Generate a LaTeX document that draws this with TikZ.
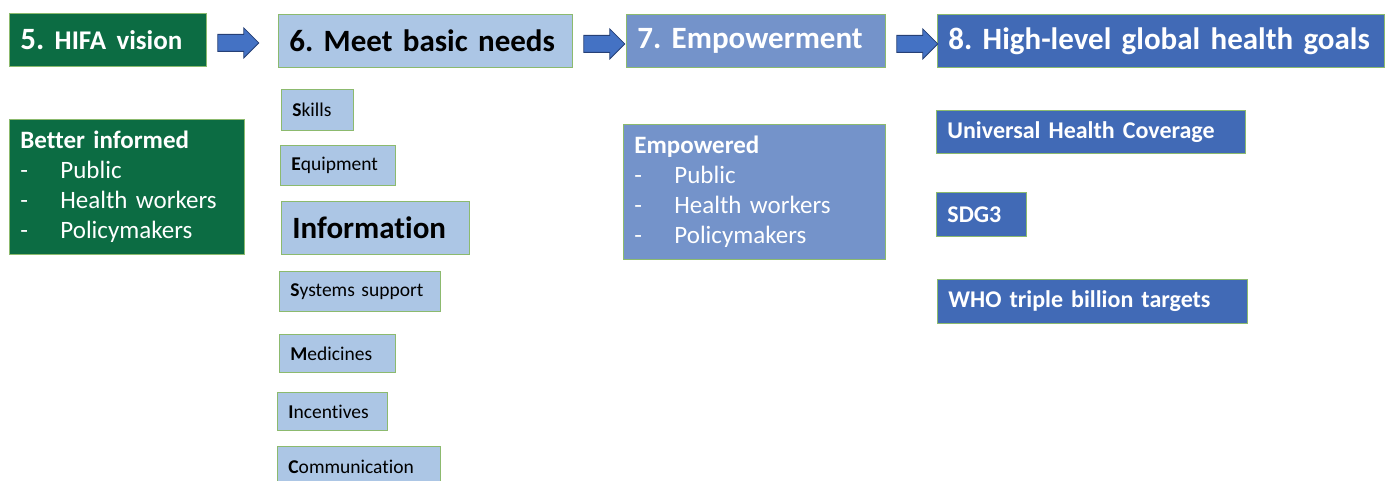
\documentclass[tikz,border=0pt]{standalone}
\usepackage{fontspec}
\setmainfont[Ligatures=NoCommon]{Carlito}
\usetikzlibrary{calc}

\definecolor{hifagreen}{RGB}{12,108,67}
\definecolor{needsblue}{RGB}{172,198,229}
\definecolor{powerblue}{RGB}{116,147,202}
\definecolor{goalblue}{RGB}{65,106,182}
\definecolor{edgegreen}{RGB}{140,186,110}
\definecolor{arrowblue}{RGB}{68,114,196}
\definecolor{arrowedge}{RGB}{38,64,118}

\newcommand{\dashitem}[1]{\makebox[40pt][l]{-}#1}
\newcommand{\blockarrow}[1]{%
    \draw[blockarr] ($(#1.east)+(11,-5.5)$) -- ++(26,0) -- ++(0,-6.5) -- ++(15,15)
        -- ++(-15,15) -- ++(0,-6.5) -- ++(-26,0) -- cycle;}

\begin{document}
\frenchspacing
\begin{tikzpicture}[x=1pt, y=-1pt,
        box/.style={draw=edgegreen, line width=0.8pt, anchor=north west, inner xsep=11pt, inner ysep=0pt, align=left},
        head/.style={box, minimum height=53pt, font=\fontsize{31}{36}\selectfont\bfseries},
        need/.style={box, fill=needsblue, font=\fontsize{19.5}{22}\selectfont},
        goal/.style={box, fill=goalblue, text=white, minimum height=44pt, font=\fontsize{24}{28}\selectfont\bfseries},
        group/.style={box, minimum height=135pt, text=white, font=\fontsize{25}{30}\selectfont},
        blockarr/.style={fill=arrowblue, draw=arrowedge, line width=0.8pt, line join=miter}]
        \useasboundingbox (0,0) rectangle (1386,481);
        \clip (0,0) rectangle (1386,481);

        % Header row.
        \node[head, fill=hifagreen, text=white, text width=175pt] (h5) at (9,13) {\mbox{5. {\fontsize{27}{32}\selectfont HIFA vision}}};
        \node[head, fill=needsblue, text width=272pt] (h6) at (278,14) {\mbox{6. Meet basic needs}};
        \node[head, fill=powerblue, text=white, text width=237pt] (h7) at (626,14) {\mbox{7. Empowerment}};
        \node[head, fill=goalblue, text=white, text width=425pt] (h8) at (937,14) {\mbox{8. High-level global health goals}};

        \blockarrow{h5}
        \blockarrow{h6}
        \blockarrow{h7}

        % Vision.
        \node[group, fill=hifagreen, text width=213pt] (informed) at (9,119)
            {\textbf{Better informed}\\ \dashitem{Public}\\ \dashitem{Health workers}\\ \dashitem{Policymakers}};

        % Basic needs.
        \node[need, minimum height=41pt, text width=50pt] (skills) at (281,89) {\textbf{S}kills};
        \node[need, minimum height=40pt, text width=93pt] (equipment) at (280,145) {\textbf{E}quipment};
        \node[need, minimum height=53pt, text width=166pt, font=\fontsize{31}{36}\selectfont\bfseries] (information) at (281,201) {Information};
        \node[need, minimum height=40pt, text width=139pt] (systems) at (279,271) {\textbf{S}ystems support};
        \node[need, minimum height=38pt, text width=94pt] (medicines) at (279,334) {\textbf{M}edicines};
        \node[need, minimum height=38pt, text width=88pt] (incentives) at (277,392) {\textbf{I}ncentives};
        \node[need, minimum height=40pt, text width=141pt] (communication) at (277,446) {\textbf{C}ommunication};

        % Empowerment.
        \node[group, fill=powerblue, text width=240pt] (empowered) at (623,124)
            {\textbf{Empowered}\\ \dashitem{Public}\\ \dashitem{Health workers}\\ \dashitem{Policymakers}};

        % Goals.
        \node[goal, minimum height=43pt, text width=287pt] (uhc) at (936,110) {Universal Health Coverage};
        \node[goal, text width=68pt] (sdg) at (936,192) {SDG3};
        \node[goal, text width=288pt] (who) at (937,279) {WHO triple billion targets};

    \end{tikzpicture}
\end{document}
